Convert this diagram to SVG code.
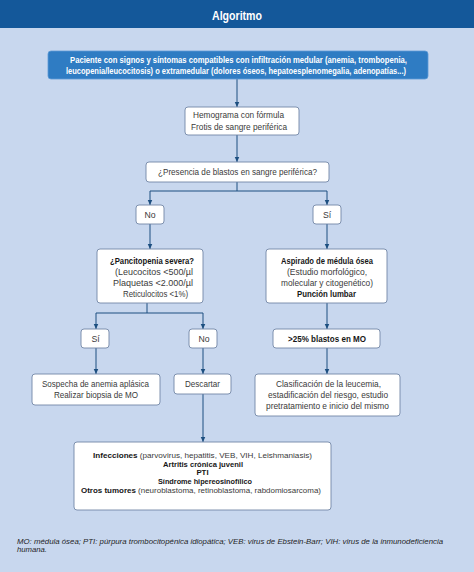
<svg xmlns="http://www.w3.org/2000/svg" width="474" height="572" viewBox="0 0 474 572">
<defs>
<marker id="ah" markerUnits="userSpaceOnUse" markerWidth="6" markerHeight="6" refX="5.5" refY="3" orient="auto">
<path d="M0,0.5 L5.5,3 L0,5.5 z" fill="#1d4f80"/>
</marker>
<style>
.bx{fill:#ffffff;stroke:#7387a6;stroke-width:0.9}
.tx{font-family:"Liberation Sans",Arial,sans-serif;font-size:8.7px;fill:#3a3a3a;text-anchor:middle}
.sm{font-size:7.8px}
.b{font-weight:bold;fill:#161616}
.cn path{fill:none;stroke:#1d4f80;stroke-width:1}
.ar{marker-end:url(#ah)}
</style>
</defs>
<rect x="0" y="0" width="474" height="572" fill="#c8d7ee"/>
<rect x="0" y="0" width="474" height="28" fill="#14589a"/>
<text x="237" y="19.5" font-family="Liberation Sans,Arial,sans-serif" font-size="12.5" font-weight="bold" fill="#ffffff" text-anchor="middle" textLength="50" lengthAdjust="spacingAndGlyphs">Algoritmo</text>

<g class="cn">
<path class="ar" d="M237,79 V107"/>
<path class="ar" d="M237,135 V162"/>
<path d="M237,182 V191 M150,191 H327"/>
<path class="ar" d="M150,191 V205"/>
<path class="ar" d="M327,191 V205"/>
<path class="ar" d="M150,224 V249"/>
<path class="ar" d="M327,224 V249"/>
<path d="M147,303 V313 M96,313 H203"/>
<path class="ar" d="M96,313 V329"/>
<path class="ar" d="M203,313 V329"/>
<path class="ar" d="M327,303 V329"/>
<path class="ar" d="M96,348 V374"/>
<path class="ar" d="M203,348 V374"/>
<path class="ar" d="M327,348 V374"/>
<path class="ar" d="M203,394 V442"/>
</g>

<g id="n-paciente">
<rect x="48" y="51" width="380" height="28" rx="3" fill="#2f7cc3" stroke="#5e9bd6" stroke-width="0.8"/>
<text class="tx" x="238.5" y="63" style="fill:#ffffff;font-weight:bold" textLength="337" lengthAdjust="spacingAndGlyphs">Paciente con signos y síntomas compatibles con infiltración medular (anemia, trombopenia,</text>
<text class="tx" x="236" y="74" style="fill:#ffffff;font-weight:bold" textLength="340" lengthAdjust="spacingAndGlyphs">leucopenia/leucocitosis) o extramedular (dolores óseos, hepatoesplenomegalia, adenopatías...)</text>
</g>

<g id="n-hemograma">
<rect class="bx" x="185" y="107" width="114" height="28" rx="3"/>
<text class="tx" x="238.5" y="118" textLength="91" lengthAdjust="spacingAndGlyphs">Hemograma con fórmula</text>
<text class="tx" x="239" y="130" textLength="96" lengthAdjust="spacingAndGlyphs">Frotis de sangre periférica</text>
</g>

<g id="n-presencia">
<rect class="bx" x="146" y="162" width="183" height="20" rx="3"/>
<text class="tx" x="237.5" y="175" textLength="159" lengthAdjust="spacingAndGlyphs">¿Presencia de blastos en sangre periférica?</text>
</g>

<g id="n-no1">
<rect class="bx" x="136" y="205" width="28" height="19" rx="3"/>
<text class="tx" x="150" y="217.5">No</text>
</g>

<g id="n-si1">
<rect class="bx" x="313" y="205" width="28" height="19" rx="3"/>
<text class="tx" x="327" y="217.5">Sí</text>
</g>

<g id="n-pancitopenia">
<rect class="bx" x="97" y="249" width="106" height="54" rx="3"/>
<text class="tx b" x="152" y="264" textLength="84" lengthAdjust="spacingAndGlyphs">¿Pancitopenia severa?</text>
<text class="tx" x="154" y="275" textLength="78" lengthAdjust="spacingAndGlyphs">(Leucocitos &lt;500/µl</text>
<text class="tx" x="153" y="286" textLength="80" lengthAdjust="spacingAndGlyphs">Plaquetas &lt;2.000/µl</text>
<text class="tx" x="155.5" y="296.5" textLength="65" lengthAdjust="spacingAndGlyphs">Reticulocitos &lt;1%)</text>
</g>

<g id="n-aspirado">
<rect class="bx" x="266" y="249" width="121" height="54" rx="3"/>
<text class="tx b" x="327" y="264" textLength="92" lengthAdjust="spacingAndGlyphs">Aspirado de médula ósea</text>
<text class="tx" x="327" y="275" textLength="80" lengthAdjust="spacingAndGlyphs">(Estudio morfológico,</text>
<text class="tx" x="327" y="286" textLength="92" lengthAdjust="spacingAndGlyphs">molecular y citogenético)</text>
<text class="tx b" x="326.5" y="296.5" textLength="59" lengthAdjust="spacingAndGlyphs">Punción lumbar</text>
</g>

<g id="n-si2">
<rect class="bx" x="81" y="329" width="28" height="19" rx="3"/>
<text class="tx" x="95.5" y="341.5">Sí</text>
</g>

<g id="n-no2">
<rect class="bx" x="189" y="329" width="28" height="19" rx="3"/>
<text class="tx" x="204" y="341.5">No</text>
</g>

<g id="n-blastos">
<rect class="bx" x="273" y="329" width="107" height="19" rx="3"/>
<text class="tx b" x="327" y="341.5" textLength="78" lengthAdjust="spacingAndGlyphs">&gt;25% blastos en MO</text>
</g>

<g id="n-sospecha">
<rect class="bx" x="32" y="374" width="128" height="31" rx="3"/>
<text class="tx" x="95.5" y="387" textLength="107" lengthAdjust="spacingAndGlyphs">Sospecha de anemia aplásica</text>
<text class="tx" x="96" y="397.5" textLength="84" lengthAdjust="spacingAndGlyphs">Realizar biopsia de MO</text>
</g>

<g id="n-descartar">
<rect class="bx" x="174" y="374" width="57" height="20" rx="3"/>
<text class="tx" x="202.5" y="387" textLength="35" lengthAdjust="spacingAndGlyphs">Descartar</text>
</g>

<g id="n-clasificacion">
<rect class="bx" x="255" y="374" width="145" height="42" rx="3"/>
<text class="tx" x="328.5" y="387" textLength="105" lengthAdjust="spacingAndGlyphs">Clasificación de la leucemia,</text>
<text class="tx" x="328" y="398" textLength="120" lengthAdjust="spacingAndGlyphs">estadificación del riesgo, estudio</text>
<text class="tx" x="327.5" y="409" textLength="123" lengthAdjust="spacingAndGlyphs">pretratamiento e inicio del mismo</text>
</g>

<g id="n-infecciones">
<rect class="bx" x="74" y="442" width="257" height="68" rx="3"/>
<text class="tx sm" x="202.5" y="458" textLength="219" lengthAdjust="spacingAndGlyphs"><tspan class="b">Infecciones</tspan> (parvovirus, hepatitis, VEB, VIH, Leishmaniasis)</text>
<text class="tx sm b" x="203" y="466.7" textLength="80" lengthAdjust="spacingAndGlyphs">Artritis crónica juvenil</text>
<text class="tx sm b" x="202.5" y="475.4">PTI</text>
<text class="tx sm b" x="205" y="484.1" textLength="94" lengthAdjust="spacingAndGlyphs">Síndrome hipereosinofílico</text>
<text class="tx sm" x="201" y="492.8" textLength="240" lengthAdjust="spacingAndGlyphs"><tspan class="b">Otros tumores</tspan> (neuroblastoma, retinoblastoma, rabdomiosarcoma)</text>
</g>

<g id="footer">
<text x="17" y="543.5" font-family="Liberation Sans,Arial,sans-serif" font-size="7.5" font-style="italic" fill="#1e1e1e" textLength="426" lengthAdjust="spacingAndGlyphs">MO: médula ósea; PTI: púrpura trombocitopénica idiopática; VEB: virus de Ebstein-Barr; VIH: virus de la inmunodeficiencia</text>
<text x="17" y="552" font-family="Liberation Sans,Arial,sans-serif" font-size="7.5" font-style="italic" fill="#1e1e1e" textLength="30" lengthAdjust="spacingAndGlyphs">humana.</text>
</g>
</svg>
